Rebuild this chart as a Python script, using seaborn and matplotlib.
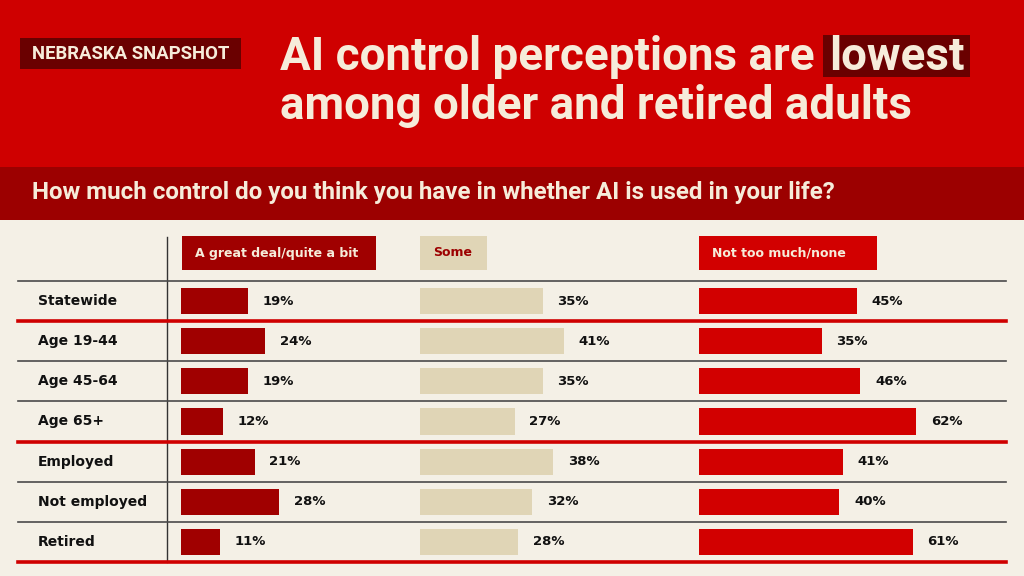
import numpy as np
import pandas as pd
import seaborn as sns
import matplotlib.pyplot as plt
from matplotlib.patches import Rectangle

# ---- data ----
groups = ["Statewide", "Age 19-44", "Age 45-64", "Age 65+",
          "Employed", "Not employed", "Retired"]
great_deal = [19, 24, 19, 12, 21, 28, 11]
some = [35, 41, 35, 27, 38, 32, 28]
not_much = [45, 35, 46, 62, 41, 40, 61]
answer_labels = ["A great deal/quite a bit", "Some", "Not too much/none"]

title_1 = "AI control perceptions are"
title_hl = "lowest"
title_2 = "among older and retired adults"
question = "How much control do you think you have in whether AI is used in your life?"
kicker = "NEBRASKA SNAPSHOT"

# ---- colours ----
RED = "#cf0000"
DARK_RED = "#9c0000"
DEEP = "#6a0000"
CREAM = "#f4f0e6"
TEXT_CREAM = "#f6ecda"
TAN = "#e0d5b6"
BAR_DARK = "#a00000"
BAR_RED = "#d20000"

COND = ["Roboto", "DejaVu Sans"]
HEAVY = ["DejaVu Sans"]

W, H = 1024, 576
fig = plt.figure(figsize=(W / 100, H / 100), dpi=100, facecolor=CREAM)
renderer = fig.canvas.get_renderer()


def box(px_left, px_top, px_w, px_h):
    return [px_left / W, 1 - (px_top + px_h) / H, px_w / W, px_h / H]


def fit_width(txt, target_px):
    # scale the font so the text spans roughly target_px
    w = txt.get_window_extent(renderer).width
    txt.set_fontsize(txt.get_fontsize() * target_px / w)


# background in pixel coordinates
bg = fig.add_axes([0, 0, 1, 1])
bg.set_xlim(0, W)
bg.set_ylim(H, 0)
bg.axis("off")
bg.add_patch(Rectangle((0, 0), W, 167, color=RED, lw=0, zorder=0.2))
bg.add_patch(Rectangle((0, 167), W, 53, color=DARK_RED, lw=0, zorder=0.2))

# kicker
bg.add_patch(Rectangle((20, 38), 221, 31, color=DEEP, lw=0))
k = bg.text(32, 54, kicker, color=TEXT_CREAM, fontsize=11, fontweight="bold",
            family=COND, ha="left", va="center")
fit_width(k, 197)

# title
t2 = bg.text(280, 106, title_2, color=TEXT_CREAM, fontsize=30,
             fontweight="bold", family=COND, ha="left", va="center")
fit_width(t2, 630)
fs = t2.get_fontsize()
t1 = bg.text(280, 57, title_1, color=TEXT_CREAM, fontsize=fs,
             fontweight="bold", family=COND, ha="left", va="center")
x_end = bg.transData.inverted().transform(
    (t1.get_window_extent(renderer).x1, 0))[0]
hl = bg.text(x_end + 14, 57, title_hl, color=TEXT_CREAM, fontsize=fs,
             fontweight="bold", family=COND, ha="left", va="center",
             zorder=3)
ext = hl.get_window_extent(renderer)
hx0 = bg.transData.inverted().transform((ext.x0, 0))[0]
hx1 = bg.transData.inverted().transform((ext.x1, 0))[0]
bg.add_patch(Rectangle((hx0 - 6, 35), hx1 - hx0 + 12, 42, color=DEEP, lw=0,
                       zorder=1.5))

q = bg.text(32, 193, question, color=TEXT_CREAM, fontsize=16,
            fontweight="bold", family=COND, ha="left", va="center")
fit_width(q, 806)

# column header chips
chips = [
    (182, 194, BAR_DARK, TEXT_CREAM),
    (420, 67, TAN, DARK_RED),
    (699, 178, BAR_RED, TEXT_CREAM),
]
for (cx, cw, fc, tc), lab in zip(chips, answer_labels):
    bg.add_patch(Rectangle((cx, 236), cw, 34, color=fc, lw=0))
    bg.text(cx + 13, 253, lab, color=tc, fontsize=9, fontweight="bold",
            family=HEAVY, ha="left", va="center")

bg.plot([167, 167], [237, 562], color="#333333", lw=1)

# table rules and row labels
n = len(groups)
tab = fig.add_axes(box(18, 281, 988, 281))
tab.set_xlim(0, 988)
tab.set_ylim(n - 0.5, -0.5)
tab.axis("off")
red_rules = {0.5, 3.5, 6.5}
for k in range(n + 1):
    y = k - 0.5
    if y in red_rules:
        tab.axhline(y, color=RED, lw=2.6, clip_on=False)
    else:
        tab.axhline(y, color="#4a4a4a", lw=1.2, clip_on=False)
for i, g in enumerate(groups):
    tab.text(20, i, g, fontsize=10, fontweight="bold", family=HEAVY,
             color="#111111", ha="left", va="center")

# bars, one axes per answer
PX_PER_PCT = 3.5
columns = [
    (181, 239, great_deal, BAR_DARK),
    (420, 279, some, TAN),
    (699, 307, not_much, BAR_RED),
]
for left, width, vals, col in columns:
    ax = fig.add_axes(box(left, 281, width, 281))
    df = pd.DataFrame({"group": groups, "pct": vals})
    sns.barplot(data=df, x="pct", y="group", orient="h", color=col,
                width=0.65, saturation=1, ax=ax)
    ax.set_xlim(0, width / PX_PER_PCT)
    ax.set_ylim(n - 0.5, -0.5)
    ax.set_facecolor("none")
    ax.axis("off")
    for i, v in enumerate(vals):
        ax.text(v + 15 / PX_PER_PCT, i, f"{v}%", fontsize=9.5,
                fontweight="bold", family=HEAVY, color="#111111",
                ha="left", va="center")

fig.savefig("out.png", dpi=100, facecolor=CREAM)
